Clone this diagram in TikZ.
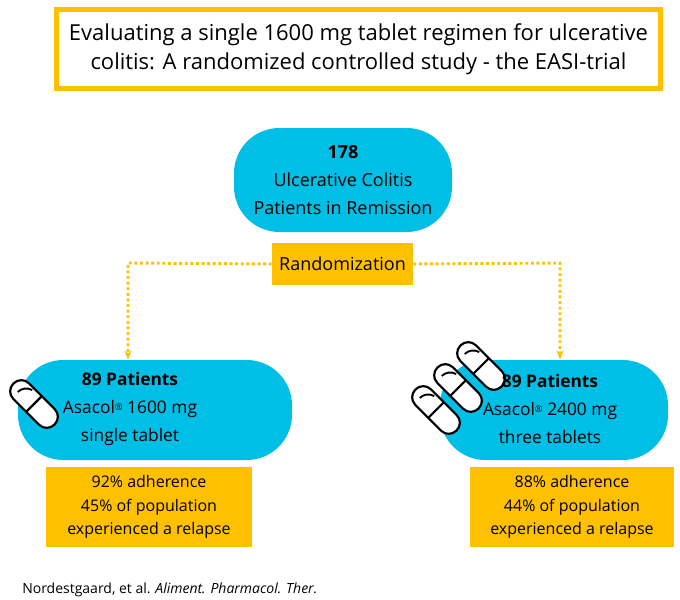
\documentclass[tikz,border=0pt]{standalone}
\usepackage{fontspec}
\setmainfont{Open Sans}
\begin{document}
\begin{tikzpicture}[x=0.75pt,y=-0.75pt,
  blue/.style={fill=cyanb,rounded corners=34pt,draw=none,align=center,inner sep=0},
  obox/.style={fill=orng,draw=none,align=center,inner sep=0},
  dots/.style={draw=orng,line width=2.2pt,dotted,-{Stealth[length=7pt]}},
  txt/.style={align=center,inner sep=0,font=\fontsize{13}{21}\selectfont},
  pill/.pic={
    \draw[line width=1.6pt,fill=white,rounded corners=8pt] (-29,-11) rectangle (29,11);
    \draw[line width=1.6pt] (0,-11) -- (0,11);
    \draw[line width=1.4pt] (-20,3) arc[start angle=180,end angle=105,radius=9pt];
  }]
\usetikzlibrary{arrows.meta}
\definecolor{cyanb}{HTML}{00BFE6}
\definecolor{orng}{HTML}{FFC000}
\newcommand{\myreg}{\raisebox{0.35ex}{\scriptsize ®}}
\useasboundingbox (0,0) rectangle (680,599);
\node[draw=orng,line width=3.8pt,fill=white,minimum width=604*0.75pt,minimum height=79*0.75pt,align=center,inner sep=0,font=\fontsize{16.5}{22}\selectfont] (title) at (358.5,49)
 {Evaluating a single 1600 mg tablet regimen for ulcerative\\colitis: A randomized controlled study - the EASI-trial};
\node[blue,minimum width=218*0.75pt,minimum height=104*0.75pt,font=\fontsize{13.5}{21}\selectfont] (top) at (343,180)
 {\textbf{178}\\Ulcerative Colitis\\Patients in Remission};
\node[obox,minimum width=141*0.75pt,minimum height=42*0.75pt,font=\fontsize{13.5}{16}\selectfont] (rand) at (342.5,264) {Randomization};
\node[blue,minimum width=274*0.75pt,minimum height=100*0.75pt] (left) at (155,410) {};
\node[blue,minimum width=228*0.75pt,minimum height=100*0.75pt] (right) at (554,410) {};
\pic[rotate=-45] at (34,404) {pill};
\pic[rotate=-45] at (436,410) {pill};
\pic[rotate=-45] at (458,388) {pill};
\pic[rotate=-45] at (481,366) {pill};
\node[txt] (ltxt) at (130,409) {\textbf{89 Patients}\\Asacol\myreg{} 1600 mg\\single tablet};
\node[txt] (rtxt) at (550,409) {\textbf{89 Patients}\\Asacol\myreg{} 2400 mg\\three tablets};
\node[obox,minimum width=206*0.75pt,minimum height=80*0.75pt,font=\fontsize{12}{17.5}\selectfont] (lres) at (149,507)
 {92\% adherence\\45\% of population\\experienced a relapse};
\node[obox,minimum width=204*0.75pt,minimum height=80*0.75pt,font=\fontsize{12}{17.5}\selectfont] (rres) at (572,507)
 {88\% adherence\\44\% of population\\experienced a relapse};
\coordinate (lc) at (128,263);
\coordinate (rc) at (560,263);
\draw[dots] (rand.west) -- (lc) -- (lc |- left.north);
\draw[dots] (rand.east) -- (rc) -- (rc |- right.north);
\node[anchor=west,inner sep=0,font=\fontsize{10.5}{13}\selectfont] (cite) at (22,590) {Nordestgaard, et al. \textit{Aliment. Pharmacol. Ther.}};
\end{tikzpicture}
\end{document}
